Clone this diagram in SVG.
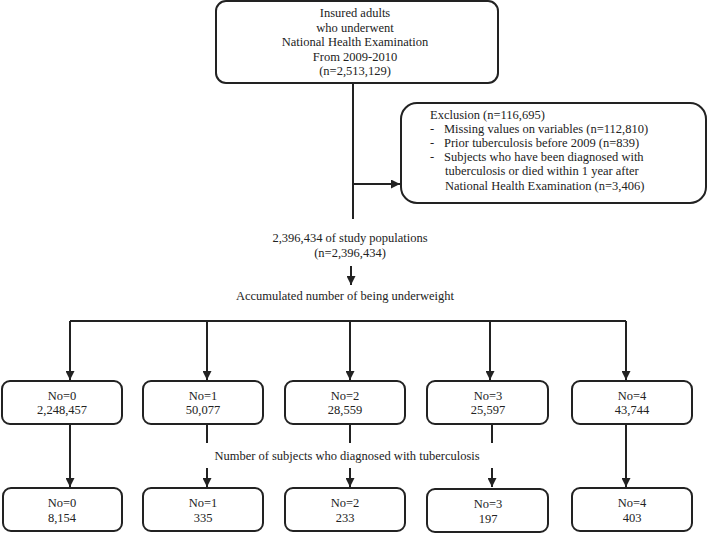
<svg xmlns="http://www.w3.org/2000/svg" width="710" height="534" viewBox="0 0 710 534">
<defs>
<marker id="arr" viewBox="0 0 10 10" refX="10" refY="5" markerWidth="4.5" markerHeight="4.5" markerUnits="strokeWidth" orient="auto">
<path d="M0,0 L10,5 L0,10 z" fill="#222"/>
</marker>
<style>
.box{fill:#fff;stroke:#222;stroke-width:2}
.ln{fill:none;stroke:#222;stroke-width:2}
.ar{fill:none;stroke:#222;stroke-width:2;marker-end:url(#arr)}
text{font-family:"Liberation Serif","Times New Roman",serif;font-size:12.5px;fill:#222}
.c{text-anchor:middle}
</style>
</defs>
<rect width="710" height="534" fill="#fff"/>
<g id="connectors">
<path class="ln" d="M353,83 V219"/>
<path class="ar" d="M353,184 H400"/>
<path class="ar" d="M351,266 V285"/>
<path class="ln" d="M70,321 H626"/>
<path class="ar" d="M70,321 V380"/>
<path class="ar" d="M207,321 V380"/>
<path class="ar" d="M350,321 V380"/>
<path class="ar" d="M490,321 V380"/>
<path class="ar" d="M626,321 V380"/>
<path class="ar" d="M70,424 V487"/>
<path class="ln" d="M207,424 V443"/>
<path class="ar" d="M207,468 V487"/>
<path class="ln" d="M350,424 V443"/>
<path class="ar" d="M350,468 V487"/>
<path class="ln" d="M492,424 V443"/>
<path class="ar" d="M492,468 V487"/>
<path class="ar" d="M626,424 V487"/>
</g>
<g id="top">
<rect class="box" x="216" y="1" width="282" height="82" rx="10"/>
<text class="c" x="355" y="17">Insured adults</text>
<text class="c" x="355" y="32">who underwent</text>
<text class="c" x="355" y="46">National Health Examination</text>
<text class="c" x="355" y="61">From 2009-2010</text>
<text class="c" x="355" y="75">(n=2,513,129)</text>
</g>
<g id="exclusion">
<rect class="box" x="401" y="103" width="305" height="100" rx="16"/>
<text x="430" y="119">Exclusion (n=116,695)</text>
<text x="430" y="133">-</text><text x="444" y="133">Missing values on variables (n=112,810)</text>
<text x="430" y="147">-</text><text x="444" y="147">Prior tuberculosis before 2009 (n=839)</text>
<text x="430" y="161">-</text><text x="444" y="161">Subjects who have been diagnosed with</text>
<text x="445" y="175">tuberculosis or died within 1 year after</text>
<text x="445" y="190">National Health Examination (n=3,406)</text>
</g>
<g id="study">
<text class="c" x="350" y="242">2,396,434 of study populations</text>
<text class="c" x="350" y="257">(n=2,396,434)</text>
</g>
<g id="accum">
<text class="c" x="345" y="300">Accumulated number of being underweight</text>
</g>
<g id="u0"><rect class="box" x="2" y="381" width="120" height="43" rx="8"/><text class="c" x="62" y="400">No=0</text><text class="c" x="62" y="414">2,248,457</text></g>
<g id="u1"><rect class="box" x="143" y="381" width="120" height="43" rx="8"/><text class="c" x="203" y="400">No=1</text><text class="c" x="203" y="414">50,077</text></g>
<g id="u2"><rect class="box" x="285" y="381" width="120" height="43" rx="8"/><text class="c" x="345" y="400">No=2</text><text class="c" x="345" y="414">28,559</text></g>
<g id="u3"><rect class="box" x="427" y="381" width="121" height="43" rx="8"/><text class="c" x="488" y="400">No=3</text><text class="c" x="488" y="414">25,597</text></g>
<g id="u4"><rect class="box" x="572" y="381" width="120" height="43" rx="8"/><text class="c" x="632" y="400">No=4</text><text class="c" x="632" y="414">43,744</text></g>
<g id="tblabel"><text class="c" x="347" y="460">Number of subjects who diagnosed with tuberculosis</text></g>
<g id="t0"><rect class="box" x="3" y="488" width="119" height="43" rx="8"/><text class="c" x="62" y="507">No=0</text><text class="c" x="62" y="522">8,154</text></g>
<g id="t1"><rect class="box" x="143" y="488" width="120" height="43" rx="8"/><text class="c" x="203" y="507">No=1</text><text class="c" x="203" y="522">335</text></g>
<g id="t2"><rect class="box" x="285" y="488" width="120" height="43" rx="8"/><text class="c" x="345" y="507">No=2</text><text class="c" x="345" y="522">233</text></g>
<g id="t3"><rect class="box" x="427" y="489" width="121" height="43" rx="8"/><text class="c" x="488" y="508">No=3</text><text class="c" x="488" y="523">197</text></g>
<g id="t4"><rect class="box" x="572" y="488" width="120" height="43" rx="8"/><text class="c" x="632" y="507">No=4</text><text class="c" x="632" y="522">403</text></g>
</svg>
